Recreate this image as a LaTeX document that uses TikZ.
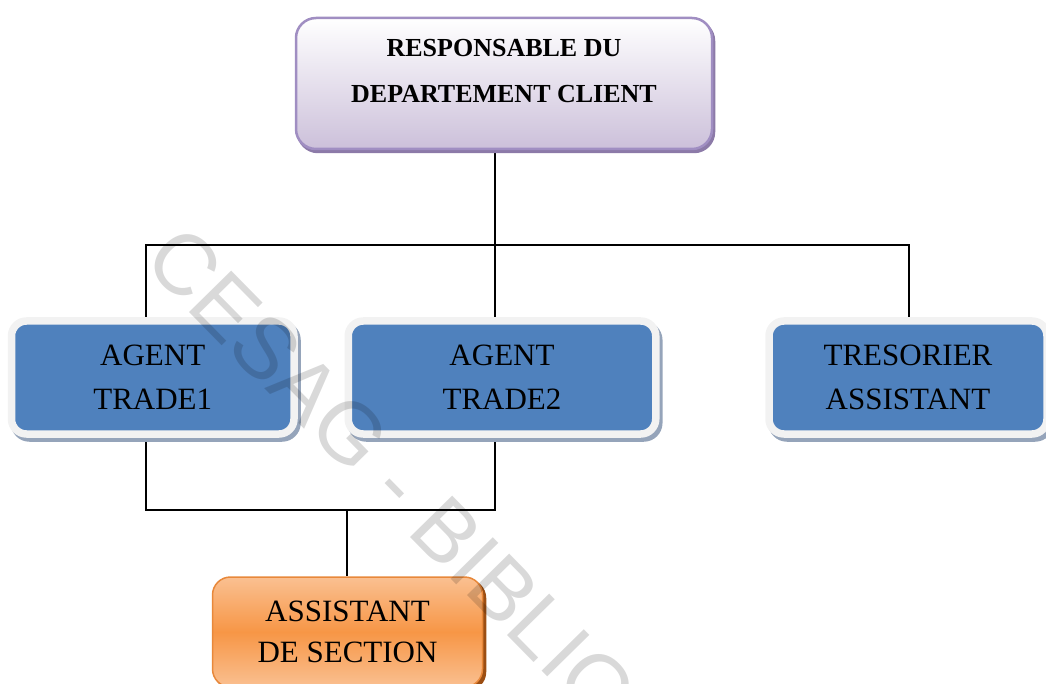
\documentclass[tikz,border=0pt]{standalone}
\usepackage{fontspec}
\setmainfont{Liberation Serif}
\newfontfamily\wmfont{Liberation Sans}
\usetikzlibrary{backgrounds}
\definecolor{blueF}{HTML}{4F81BD}
\definecolor{blueB}{HTML}{F2F2F2}
\definecolor{blueS}{HTML}{95A4BA}
\definecolor{lavB}{HTML}{A08EC2}
\definecolor{lavF}{HTML}{CCC0DA}
\definecolor{lavS}{HTML}{8C7AA8}
\definecolor{orL}{HTML}{FAC091}
\definecolor{orM}{HTML}{F79646}
\definecolor{orB}{HTML}{E8883A}
\definecolor{orS}{HTML}{9C4E12}
\begin{document}
\begin{tikzpicture}[x=1pt,y=-1pt,
  conn/.style={draw=black, line width=1.8pt},
  topbox/.style={rounded corners=20pt, draw=lavB, line width=2.5pt, top color=white, bottom color=lavF,
    minimum width=416pt, minimum height=131pt, inner sep=0pt,
    preaction={fill=lavS, draw=lavS, line width=2.5pt, transform canvas={xshift=2pt,yshift=-3pt}}},
  toptext/.style={font=\bfseries\fontsize{26}{46}\selectfont, align=center, inner sep=0pt},
  bluebox/.style={rounded corners=15pt, draw=blueB, line width=7.5pt, fill=blueF,
    minimum height=113pt, inner sep=0pt, align=center, font=\fontsize{31}{44}\selectfont,
    preaction={fill=blueS, draw=blueS, line width=7.5pt, transform canvas={xshift=3pt,yshift=-4pt}}},
  orbox/.style={rounded corners=18pt, draw=orB, line width=1.5pt, top color=orL, bottom color=orL, middle color=orM,
    minimum width=270pt, minimum height=110pt, inner sep=0pt, align=center, font=\fontsize{31}{41}\selectfont,
    preaction={fill=orS, draw=orS, line width=1.5pt, transform canvas={xshift=3pt,yshift=-3pt}}},
  wm/.style={font=\wmfont\fontsize{86}{86}\selectfont, text=black, text opacity=0.15, inner sep=0pt}
]
\path[use as bounding box] (0,0) rectangle (1046,684);
\clip (0,0) rectangle (1046,684);

\node[topbox] (top) at (504,83.5) {};
\node[toptext] (toptxt) at (504,71.4) {RESPONSABLE DU\\DEPARTEMENT CLIENT};

\node[bluebox, minimum width=282.5pt] (a1) at (152.75,377.5) {AGENT\\TRADE1};
\node[bluebox, minimum width=307.5pt] (a2) at (502,377.5) {AGENT\\TRADE2};
\node[bluebox, minimum width=278pt] (a3) at (908,377.5) {TRESORIER\\ASSISTANT};

\node[orbox] (as) at (347.5,632) {ASSISTANT\\DE SECTION};

\coordinate (b1) at (146,245);
\coordinate (b2) at (495,245);
\coordinate (b3) at (909,245);
\coordinate (j1) at (146,510);
\coordinate (j2) at (495,510);
\coordinate (jm) at (347,510);

\begin{scope}[on background layer]
\draw[conn] (top.south -| b2) -- (b2 |- a2.north);
\draw[conn] (b1 |- a1.north) -- (b1) -- (b3) -- (b3 |- a3.north);
\draw[conn] (j1 |- a1.south) -- (j1) -- (j2) -- (j2 |- a2.south);
\draw[conn] (jm) -- (jm |- as.north);
\end{scope}

\node[wm, anchor=west, rotate=-45.5] (wmark) at (162,242) {CESAG - BIBLIO};
\end{tikzpicture}
\end{document}
